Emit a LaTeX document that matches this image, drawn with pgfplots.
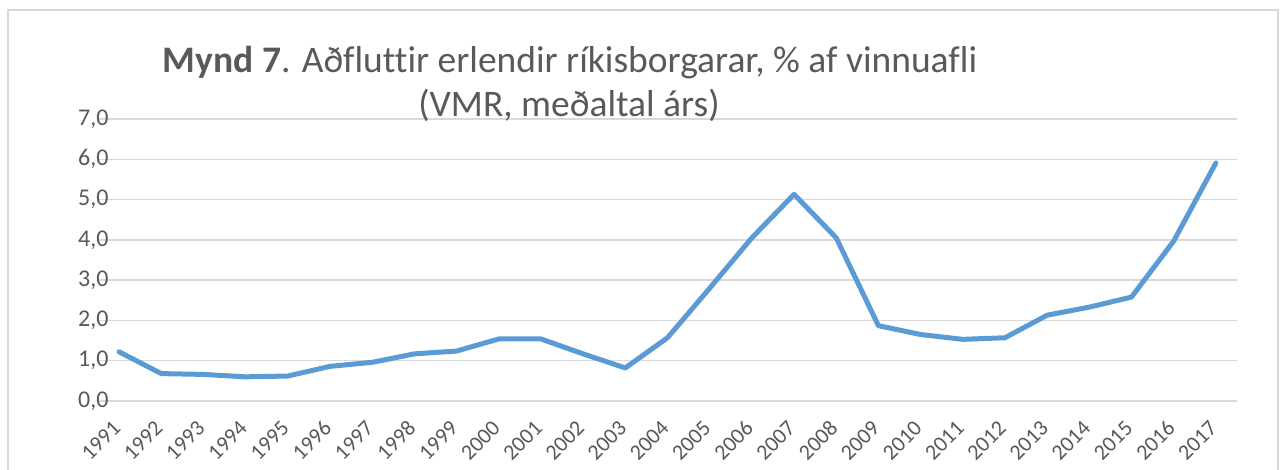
\documentclass[border=0pt]{standalone}
\usepackage{pgfplots}
\pgfplotsset{compat=1.18}
\usepackage{fontspec}
\setmainfont{Carlito}[Ligatures=NoCommon]
\definecolor{txt}{HTML}{595959}
\definecolor{gridc}{HTML}{D9D9D9}
\definecolor{lineblue}{HTML}{5B9BD5}
\begin{document}
\begin{tikzpicture}[x=1pt,y=1pt]
\useasboundingbox (0,0) rectangle (1281,470);
\fill[white] (0,0) rectangle (1281,470);
\draw[gridc, line width=1.5pt] (8,-10) rectangle (1278,460);
\begin{axis}[at={(98pt,69pt)}, anchor=south west,
  width=1139pt, height=282pt, scale only axis,
  xmin=1990.5, xmax=2017.5, ymin=0, ymax=7,
  xtick={1991,...,2017}, ytick={0,1,...,7},
  axis line style={draw=none}, major tick length=0pt,
  ymajorgrids, grid style={gridc, line width=1.3pt},
  tick label style={text=txt},
  /pgf/number format/assume math mode=true,
  yticklabel shift=-14pt,
  yticklabel style={font=\fontsize{24}{28}\selectfont,
    /pgf/number format/fixed, /pgf/number format/fixed zerofill,
    /pgf/number format/precision=1, /pgf/number format/use comma},
  xticklabel shift=21pt,
  xticklabel style={font=\fontsize{22}{26}\selectfont,
    /pgf/number format/1000 sep={}, rotate=45, anchor=east}]
\addplot[lineblue, line width=5pt, line join=round, line cap=round, mark=none] coordinates {
(1991,1.22) (1992,0.68) (1993,0.66) (1994,0.60) (1995,0.62) (1996,0.86)
(1997,0.96) (1998,1.17) (1999,1.24) (2000,1.54) (2001,1.54) (2002,1.17)
(2003,0.82) (2004,1.57) (2005,2.80) (2006,4.05) (2007,5.13) (2008,4.05)
(2009,1.87) (2010,1.65) (2011,1.53) (2012,1.57) (2013,2.13) (2014,2.33)
(2015,2.58) (2016,3.97) (2017,5.91)};
\end{axis}
\node[anchor=base, text=txt, font=\fontsize{37.5}{44}\selectfont, inner sep=0pt] at (570,397)
  {\textbf{Mynd 7}. Aðfluttir erlendir ríkisborgarar, \% af vinnuafli};
\node[anchor=base, text=txt, font=\fontsize{37.5}{44}\selectfont, inner sep=0pt] at (569,353)
  {(VMR, meðaltal árs)};
\end{tikzpicture}
\end{document}
